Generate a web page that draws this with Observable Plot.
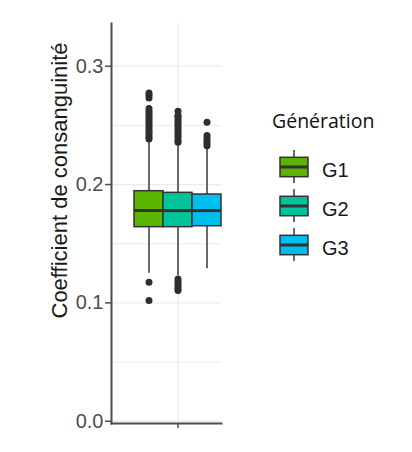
<!DOCTYPE html>
<html>
<head>
<meta charset="utf-8">
<script src="https://cdn.jsdelivr.net/npm/d3@7"></script>
<script src="https://cdn.jsdelivr.net/npm/@observablehq/plot@0.6"></script>
<style>
  html, body { margin: 0; padding: 0; background: #fff; }
  #wrap { position: relative; width: 412px; height: 452px; overflow: hidden; }
  #wrap > svg { position: absolute; left: 0; top: 0; }
</style>
</head>
<body>
<div id="wrap"></div>
<script>
// ---- data ----
const groups = ["G1", "G2", "G3"];
const colors = ["#5BB400", "#00C49A", "#00BEF0"];
const q1 = [0.1640, 0.1640, 0.1648];
const median = [0.1781, 0.1780, 0.1780];
const q3 = [0.1944, 0.1930, 0.1916];
const whiskerLow = [0.125, 0.123, 0.1288];
const whiskerHigh = [0.237, 0.2345, 0.231];
const outliersG1 = [0.102, 0.1175, 0.2385, 0.240, 0.242, 0.244, 0.246, 0.248, 0.250, 0.252, 0.254, 0.256, 0.258, 0.260, 0.262, 0.2643, 0.2732, 0.2755, 0.2773];
const outliersG2 = [0.1105, 0.112, 0.114, 0.116, 0.118, 0.1203, 0.2358, 0.2375, 0.2395, 0.2415, 0.2435, 0.2455, 0.2475, 0.2495, 0.2515, 0.2535, 0.2555, 0.2575, 0.2583, 0.262];
const outliersG3 = [0.2329, 0.235, 0.237, 0.239, 0.2414, 0.2527];
const yTicks = [0, 0.1, 0.2, 0.3];
const yMinorTicks = [0.05, 0.15, 0.25];
const yDomain = [-0.0019, 0.3361];
const yLabel = "Coefficient de consanguinité";
const legendTitle = "Génération";

// ---- tables ----
const stats = groups.map((g, i) => ({group: g, q1: q1[i], median: median[i], q3: q3[i], lo: whiskerLow[i], hi: whiskerHigh[i]}));
const outliers = [
  ...outliersG1.map(v => ({group: "G1", value: v})),
  ...outliersG2.map(v => ({group: "G2", value: v})),
  ...outliersG3.map(v => ({group: "G3", value: v}))
];

const axisColor = "#4D4D4D";
const gridColor = "#EBEBEB";
const boxStroke = "#333333";

const chart = Plot.plot({
  width: 412,
  height: 452,
  marginLeft: 111,
  marginRight: 191,
  marginTop: 23,
  marginBottom: 29,
  style: {fontFamily: "'Liberation Sans', Arial, sans-serif", background: "transparent", overflow: "visible"},
  x: {type: "band", domain: groups, paddingInner: 0, paddingOuter: 0.375, align: 1, axis: null},
  y: {domain: yDomain, axis: null},
  color: {domain: groups, range: colors},
  marks: [
    Plot.gridY(yMinorTicks, {stroke: gridColor, strokeOpacity: 1, strokeWidth: 1}),
    Plot.gridY(yTicks, {stroke: gridColor, strokeOpacity: 1, strokeWidth: 1.3}),
    Plot.gridX(["G2"], {stroke: gridColor, strokeOpacity: 1, strokeWidth: 1.3}),
    Plot.ruleX(stats, {x: "group", y1: "lo", y2: "hi", stroke: "#444", strokeWidth: 1.6}),
    Plot.barY(stats, {x: "group", y1: "q1", y2: "q3", fill: "group", stroke: boxStroke, strokeWidth: 1.5}),
    Plot.tickY(stats, {x: "group", y: "median", stroke: boxStroke, strokeWidth: 3}),
    Plot.dot(outliers, {x: "group", y: "value", r: 3.5, fill: "#2E2E2E", stroke: "none"}),
    Plot.axisY(yTicks, {anchor: "left", tickSize: 6, tickPadding: 2, tickFormat: d3.format(".1f"), fontSize: 20, color: axisColor, strokeWidth: 1.5, label: null}),
    Plot.axisX(["G2"], {anchor: "bottom", tickSize: 5, tickFormat: () => "", color: axisColor, strokeWidth: 1.5, label: null}),
    Plot.frame({anchor: "left", stroke: axisColor, strokeWidth: 2}),
    Plot.frame({anchor: "bottom", stroke: axisColor, strokeWidth: 2}),
    Plot.text([yLabel], {frameAnchor: "left", rotate: -90, dx: -52, dy: -43, fontSize: 22, fill: "#1a1a1a", textAnchor: "middle"})
  ]
});
document.getElementById("wrap").appendChild(chart);

// ---- legend ----
const legend = d3.select("#wrap").append("svg")
  .attr("width", 412).attr("height", 452)
  .style("pointer-events", "none");
legend.append("text")
  .attr("x", 272).attr("y", 128)
  .attr("font-family", "'Open Sans', sans-serif")
  .attr("font-size", 19.5)
  .attr("fill", "#111")
  .text(legendTitle);
groups.forEach((g, i) => {
  const cy = 167 + i * 39;
  const gEl = legend.append("g");
  gEl.append("line").attr("x1", 294).attr("x2", 294).attr("y1", cy - 17).attr("y2", cy + 16)
    .attr("stroke", "#444").attr("stroke-width", 1.6);
  gEl.append("rect").attr("x", 280).attr("y", cy - 9.7).attr("width", 28).attr("height", 19.4)
    .attr("fill", colors[i]).attr("stroke", boxStroke).attr("stroke-width", 1.5);
  gEl.append("line").attr("x1", 280).attr("x2", 308).attr("y1", cy).attr("y2", cy)
    .attr("stroke", boxStroke).attr("stroke-width", 3);
  gEl.append("text").attr("x", 322).attr("y", cy + 10)
    .attr("font-family", "'Liberation Sans', Arial, sans-serif")
    .attr("font-size", 20).attr("fill", "#1a1a1a")
    .text(g);
});
</script>
</body>
</html>
